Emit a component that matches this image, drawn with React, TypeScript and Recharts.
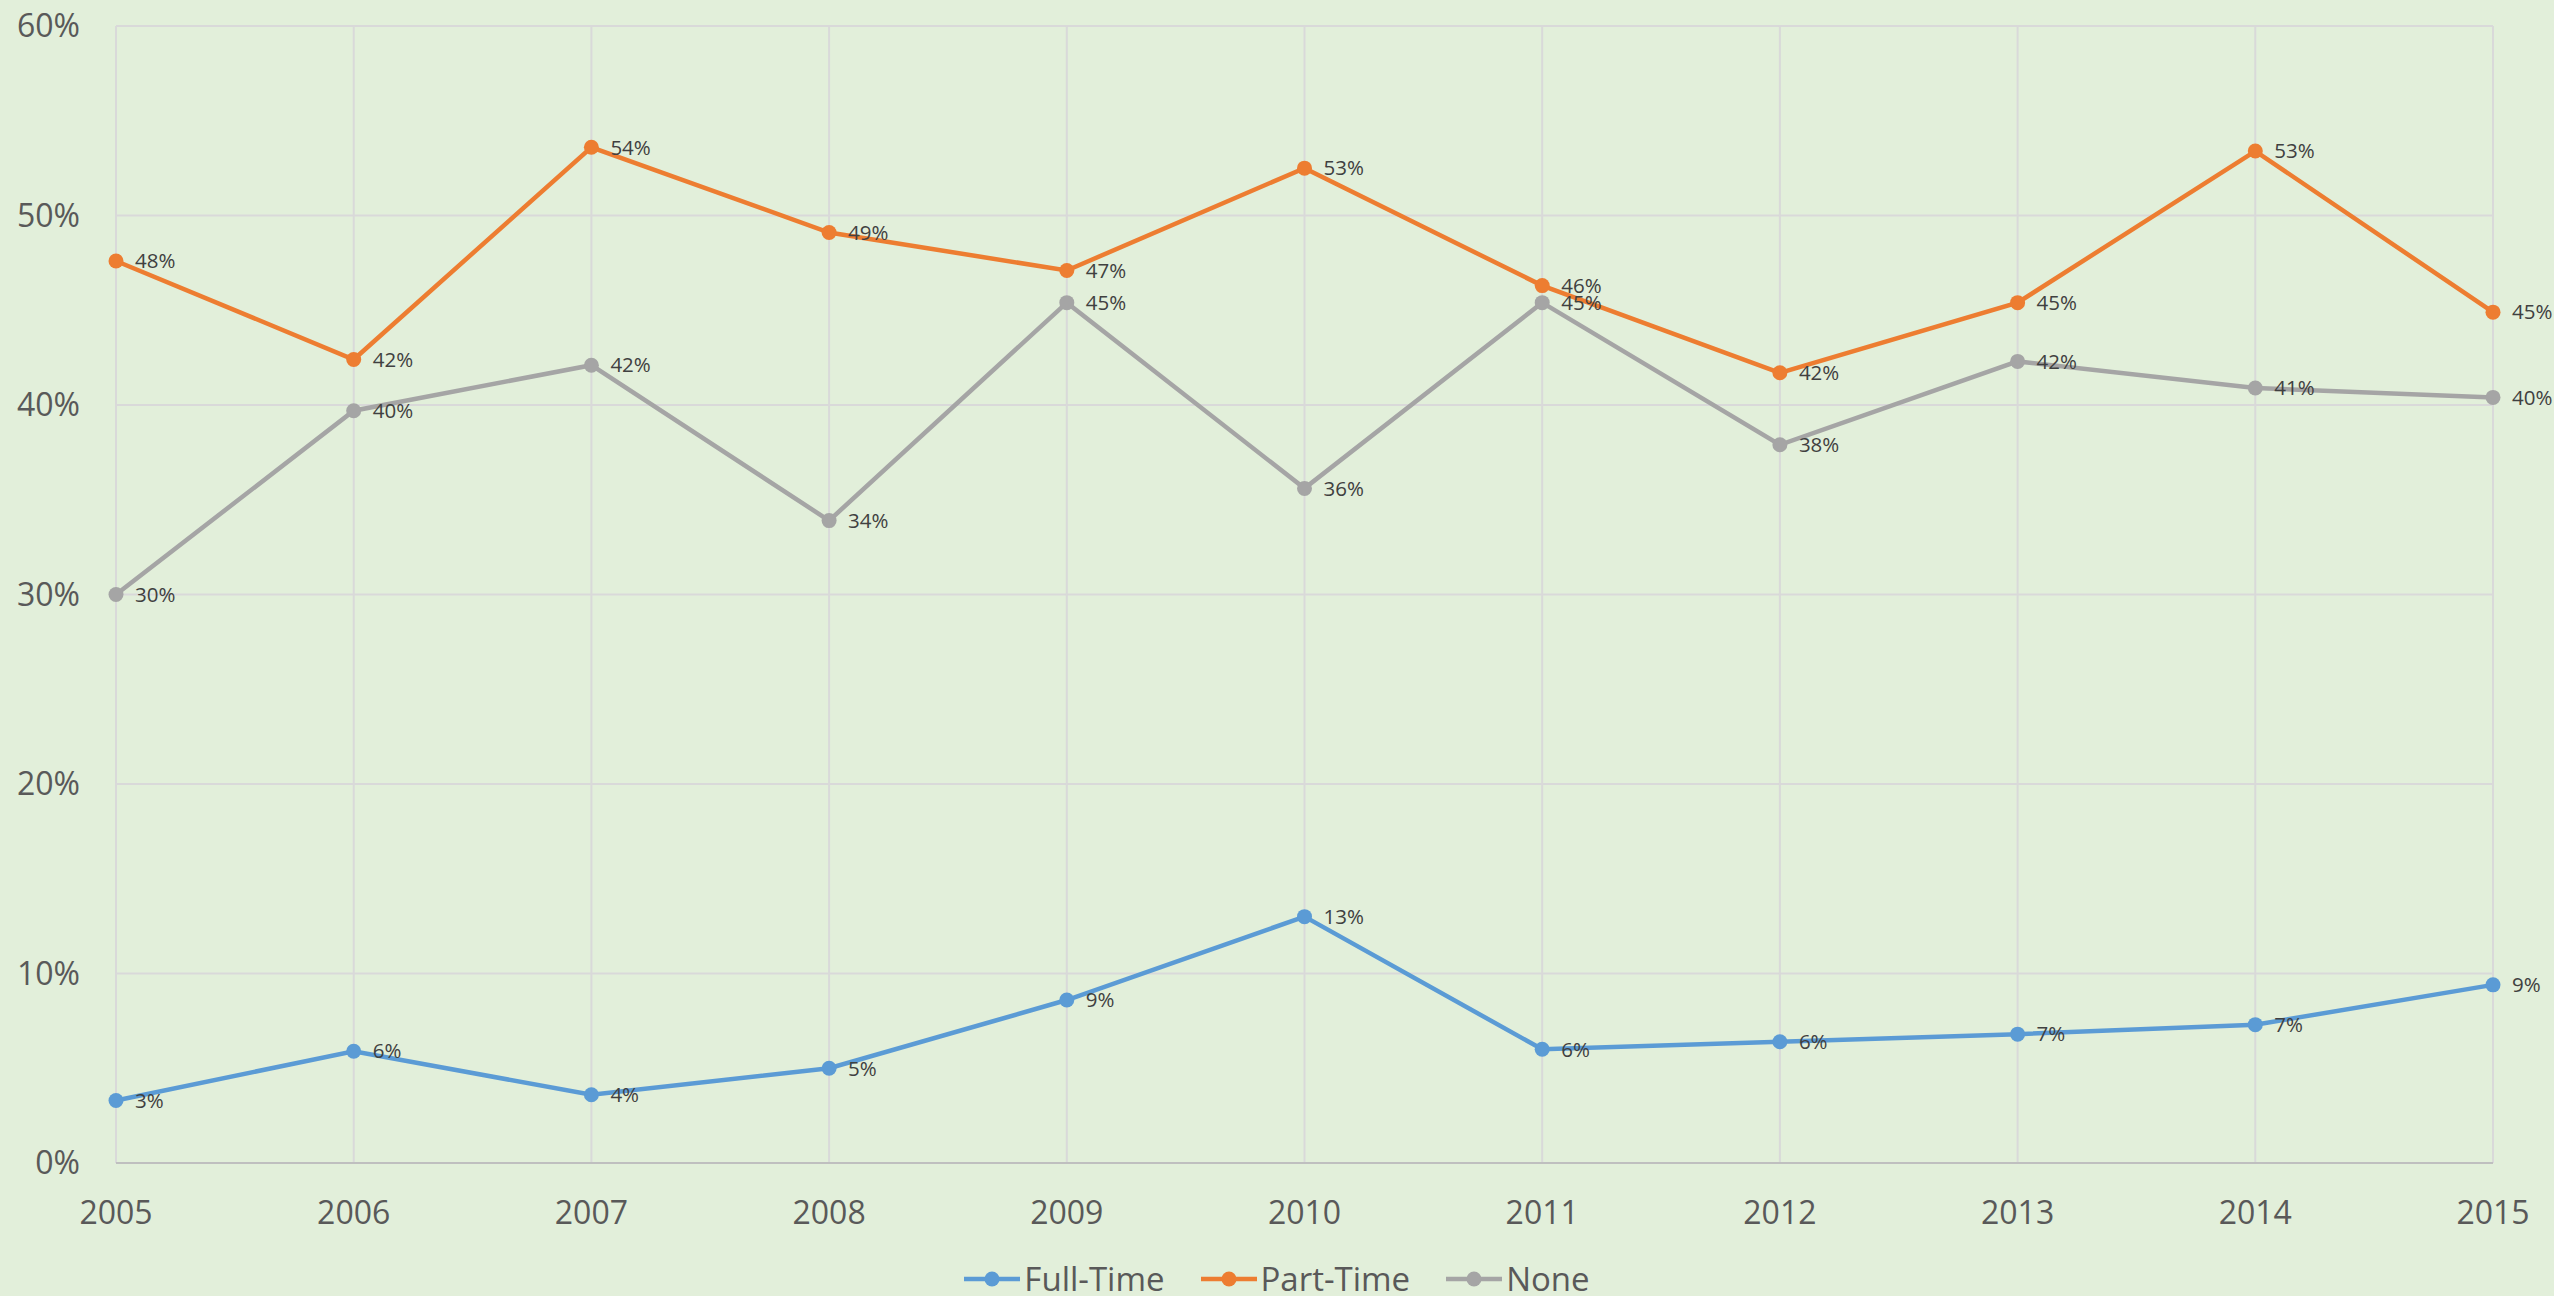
import { LineChart, Line, XAxis, YAxis, CartesianGrid, Legend, LabelList } from 'recharts'

const years = ['2005', '2006', '2007', '2008', '2009', '2010', '2011', '2012', '2013', '2014', '2015']
const fullTime = [3.3, 5.9, 3.6, 5.0, 8.6, 13.0, 6.0, 6.4, 6.8, 7.3, 9.4]
const partTime = [47.6, 42.4, 53.6, 49.1, 47.1, 52.5, 46.3, 41.7, 45.4, 53.4, 44.9]
const none = [30.0, 39.7, 42.1, 33.9, 45.4, 35.6, 45.4, 37.9, 42.3, 40.9, 40.4]
const yTicks = [0, 10, 20, 30, 40, 50, 60]

const SERIES = [
  { key: 'fullTime', name: 'Full-Time', color: '#5B9BD5' },
  { key: 'partTime', name: 'Part-Time', color: '#ED7D31' },
  { key: 'none', name: 'None', color: '#A5A5A5' },
]

const data = years.map((year, i) => ({
  year,
  fullTime: fullTime[i],
  partTime: partTime[i],
  none: none[i],
}))

const FONT = '"Open Sans", "Noto Sans", sans-serif'

function LegendContent() {
  return (
    <div style={{ display: 'flex', justifyContent: 'center', alignItems: 'center', gap: 36, height: 30 }}>
      {SERIES.map((s) => (
        <div key={s.key} style={{ display: 'flex', alignItems: 'center' }}>
          <svg width={56} height={20}>
            <line x1={0} y1={10} x2={56} y2={10} stroke={s.color} strokeWidth={4.5} />
            <circle cx={28} cy={10} r={7.5} fill={s.color} />
          </svg>
          <span
            style={{
              fontFamily: FONT,
              fontSize: 33,
              lineHeight: '30px',
              color: '#595959',
              marginLeft: 4,
            }}
          >
            {s.name}
          </span>
        </div>
      ))}
    </div>
  )
}

export default function App() {
  return (
    <div style={{ position: 'absolute', top: 0, left: 0, width: 2554, height: 1296, background: '#E2EFDA' }}>
      <LineChart width={2554} height={1296} data={data} margin={{ top: 26, right: 61, bottom: 0, left: 0 }}>
        <CartesianGrid stroke="#D9D9D9" strokeWidth={2} />
        <XAxis
          dataKey="year"
          height={133}
          tickLine={false}
          axisLine={{ stroke: '#BFBFBF', strokeWidth: 2 }}
          tick={{ fill: '#595959', fontSize: 32, fontFamily: FONT }}
          tickMargin={32}
        />
        <YAxis
          width={116}
          domain={[0, 60]}
          ticks={yTicks}
          tickFormatter={(v) => `${v}%`}
          axisLine={false}
          tickLine={false}
          tick={{ fill: '#595959', fontSize: 32, fontFamily: FONT }}
          tickMargin={30}
        />
        <Legend
          verticalAlign="middle"
          align="center"
          content={<LegendContent />}
          wrapperStyle={{ top: 1264, left: 0, width: 2554, height: 30 }}
        />
        {SERIES.map((s) => (
          <Line
            key={s.key}
            type="linear"
            dataKey={s.key}
            name={s.name}
            stroke={s.color}
            strokeWidth={4.5}
            dot={{ r: 7.5, fill: s.color, stroke: s.color, strokeWidth: 0 }}
            isAnimationActive={false}
          >
            <LabelList
              dataKey={s.key}
              position="right"
              offset={19}
              formatter={(v: number) => `${Math.round(v)}%`}
              style={{ fill: '#404040', fontSize: 20.5, fontFamily: FONT }}
            />
          </Line>
        ))}
      </LineChart>
    </div>
  )
}
